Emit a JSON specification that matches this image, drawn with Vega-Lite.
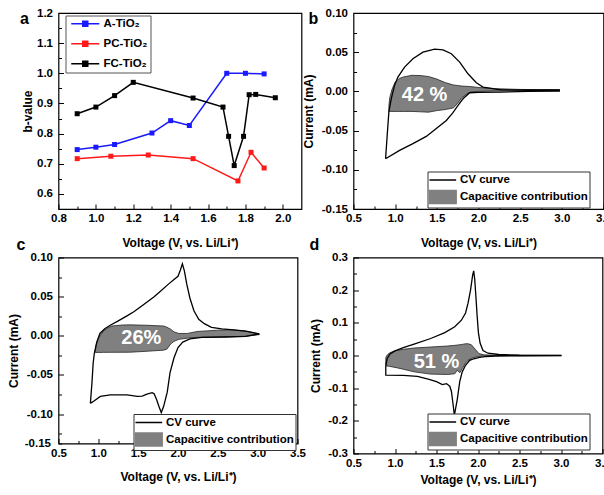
{
"$schema": "https://vega.github.io/schema/vega-lite/v6.json",
"background": "white",
"padding": {"left": 6.5, "top": 6, "right": 0, "bottom": 0},
"config": {
  "font": "Liberation Sans",
  "view": {"stroke": "black", "strokeWidth": 1.2},
  "axis": {"labelFont": "Liberation Sans", "labelFontWeight": "bold", "labelFontSize": 11.5, "labelColor": "black",
           "titleFont": "Liberation Sans", "titleFontWeight": "bold", "titleFontSize": 12, "titleColor": "black",
           "grid": false, "domain": false, "tickColor": "black", "tickWidth": 1, "labelOverlap": false, "labelFlush": false},
  "axisX": {"labelPadding": 8.5, "titlePadding": 11},
  "axisY": {"labelPadding": 11, "titlePadding": 5},
  "title": {"font": "Liberation Sans", "fontWeight": "bold", "fontSize": 16, "color": "black", "anchor": "start", "frame": "group", "baseline": "alphabetic"},
  "legend": {"labelFont": "Liberation Sans", "labelFontWeight": "bold", "labelFontSize": 11.5, "labelColor": "black", "orient": "none", "fillColor": "white"}
},
"datasets": {
  "a": [
    {"s": "A-TiO₂", "v": 0.9, "b": 0.747}, {"s": "A-TiO₂", "v": 1.0, "b": 0.755}, {"s": "A-TiO₂", "v": 1.1, "b": 0.764},
    {"s": "A-TiO₂", "v": 1.3, "b": 0.802}, {"s": "A-TiO₂", "v": 1.4, "b": 0.843}, {"s": "A-TiO₂", "v": 1.5, "b": 0.827},
    {"s": "A-TiO₂", "v": 1.7, "b": 1.0}, {"s": "A-TiO₂", "v": 1.8, "b": 1.0}, {"s": "A-TiO₂", "v": 1.9, "b": 0.998},
    {"s": "PC-TiO₂", "v": 0.9, "b": 0.717}, {"s": "PC-TiO₂", "v": 1.08, "b": 0.725}, {"s": "PC-TiO₂", "v": 1.28, "b": 0.729},
    {"s": "PC-TiO₂", "v": 1.52, "b": 0.717}, {"s": "PC-TiO₂", "v": 1.76, "b": 0.643}, {"s": "PC-TiO₂", "v": 1.83, "b": 0.738},
    {"s": "PC-TiO₂", "v": 1.9, "b": 0.686},
    {"s": "FC-TiO₂", "v": 0.9, "b": 0.866}, {"s": "FC-TiO₂", "v": 1.0, "b": 0.888}, {"s": "FC-TiO₂", "v": 1.1, "b": 0.926},
    {"s": "FC-TiO₂", "v": 1.2, "b": 0.97}, {"s": "FC-TiO₂", "v": 1.52, "b": 0.918}, {"s": "FC-TiO₂", "v": 1.68, "b": 0.888},
    {"s": "FC-TiO₂", "v": 1.71, "b": 0.791}, {"s": "FC-TiO₂", "v": 1.74, "b": 0.694}, {"s": "FC-TiO₂", "v": 1.79, "b": 0.791},
    {"s": "FC-TiO₂", "v": 1.82, "b": 0.929}, {"s": "FC-TiO₂", "v": 1.855, "b": 0.93}, {"s": "FC-TiO₂", "v": 1.96, "b": 0.919}
  ],
  "bcv": [
    {"i": 1, "v": 0.885, "I": -0.0859}, {"i": 2, "v": 0.905, "I": -0.055}, {"i": 3, "v": 0.925, "I": -0.0255},
    {"i": 4, "v": 0.953, "I": -0.0094}, {"i": 5, "v": 0.993, "I": 0.0077}, {"i": 6, "v": 1.033, "I": 0.0183},
    {"i": 7, "v": 1.113, "I": 0.031}, {"i": 8, "v": 1.213, "I": 0.0417}, {"i": 9, "v": 1.333, "I": 0.05},
    {"i": 10, "v": 1.474, "I": 0.054}, {"i": 11, "v": 1.574, "I": 0.053}, {"i": 12, "v": 1.674, "I": 0.048},
    {"i": 13, "v": 1.774, "I": 0.0374}, {"i": 14, "v": 1.874, "I": 0.0225}, {"i": 15, "v": 1.974, "I": 0.011},
    {"i": 16, "v": 2.054, "I": 0.0055}, {"i": 17, "v": 2.27, "I": 0.002}, {"i": 18, "v": 2.6, "I": 0.0018},
    {"i": 19, "v": 2.97, "I": 0.002}, {"i": 20, "v": 2.97, "I": 0.0005}, {"i": 21, "v": 2.6, "I": 0.0},
    {"i": 22, "v": 2.27, "I": -0.0009}, {"i": 23, "v": 2.0, "I": -0.0012}, {"i": 24, "v": 1.894, "I": -0.0017},
    {"i": 25, "v": 1.814, "I": -0.0094}, {"i": 26, "v": 1.754, "I": -0.0179}, {"i": 27, "v": 1.694, "I": -0.0272},
    {"i": 28, "v": 1.614, "I": -0.037}, {"i": 29, "v": 1.49, "I": -0.0476}, {"i": 30, "v": 1.373, "I": -0.0574},
    {"i": 31, "v": 1.213, "I": -0.0667}, {"i": 32, "v": 1.053, "I": -0.0753}, {"i": 33, "v": 0.885, "I": -0.0859}
  ],
  "barea": [
    {"v": 0.925, "I": -0.018, "I2": -0.0255}, {"v": 0.935, "I": -0.008, "I2": -0.0255}, {"v": 0.96, "I": 0.002, "I2": -0.0255},
    {"v": 1.0, "I": 0.012, "I2": -0.0255}, {"v": 1.05, "I": 0.0165, "I2": -0.0255}, {"v": 1.1, "I": 0.0185, "I2": -0.0255},
    {"v": 1.2, "I": 0.0205, "I2": -0.0255}, {"v": 1.3, "I": 0.0202, "I2": -0.026}, {"v": 1.4, "I": 0.019, "I2": -0.0265},
    {"v": 1.5, "I": 0.0157, "I2": -0.0245}, {"v": 1.6, "I": 0.0112, "I2": -0.0232}, {"v": 1.7, "I": 0.0082, "I2": -0.021},
    {"v": 1.75, "I": 0.0075, "I2": -0.015}, {"v": 1.8, "I": 0.0068, "I2": -0.008}, {"v": 1.85, "I": 0.0065, "I2": -0.004},
    {"v": 1.9, "I": 0.0062, "I2": -0.001}, {"v": 2.0, "I": 0.005, "I2": 0.0}, {"v": 2.2, "I": 0.0035, "I2": 0.0005},
    {"v": 2.5, "I": 0.0025, "I2": 0.001}, {"v": 2.97, "I": 0.002, "I2": 0.0015}
  ],
  "blab": [{"v": 1.353, "I": -0.005, "t": "42 %"}],
  "ccv": [
    {"i": 1, "v": 0.9, "I": -0.0863}, {"i": 2, "v": 0.92, "I": -0.06}, {"i": 3, "v": 0.935, "I": -0.035},
    {"i": 4, "v": 0.95, "I": -0.022}, {"i": 5, "v": 0.98, "I": -0.008}, {"i": 6, "v": 1.02, "I": 0.003},
    {"i": 7, "v": 1.08, "I": 0.009}, {"i": 8, "v": 1.15, "I": 0.0135}, {"i": 9, "v": 1.25, "I": 0.019},
    {"i": 10, "v": 1.36, "I": 0.0255}, {"i": 11, "v": 1.45, "I": 0.031}, {"i": 12, "v": 1.57, "I": 0.04},
    {"i": 13, "v": 1.7, "I": 0.05}, {"i": 14, "v": 1.78, "I": 0.057}, {"i": 15, "v": 1.88, "I": 0.066},
    {"i": 16, "v": 1.95, "I": 0.072}, {"i": 17, "v": 2.0, "I": 0.076}, {"i": 18, "v": 2.03, "I": 0.084},
    {"i": 19, "v": 2.055, "I": 0.092}, {"i": 20, "v": 2.08, "I": 0.083}, {"i": 21, "v": 2.11, "I": 0.066},
    {"i": 22, "v": 2.15, "I": 0.048}, {"i": 23, "v": 2.2, "I": 0.032}, {"i": 24, "v": 2.26, "I": 0.021},
    {"i": 25, "v": 2.33, "I": 0.0155}, {"i": 26, "v": 2.42, "I": 0.0108}, {"i": 27, "v": 2.55, "I": 0.0088},
    {"i": 28, "v": 2.7, "I": 0.0077}, {"i": 29, "v": 2.85, "I": 0.006}, {"i": 30, "v": 3.02, "I": 0.0025},
    {"i": 31, "v": 2.85, "I": -0.0008}, {"i": 32, "v": 2.6, "I": -0.0015}, {"i": 33, "v": 2.3, "I": -0.002},
    {"i": 34, "v": 2.15, "I": -0.004}, {"i": 35, "v": 2.06, "I": -0.008}, {"i": 36, "v": 2.0, "I": -0.015},
    {"i": 37, "v": 1.95, "I": -0.028}, {"i": 38, "v": 1.9, "I": -0.047}, {"i": 39, "v": 1.865, "I": -0.072},
    {"i": 40, "v": 1.82, "I": -0.09}, {"i": 41, "v": 1.79, "I": -0.098}, {"i": 42, "v": 1.76, "I": -0.09},
    {"i": 43, "v": 1.73, "I": -0.081}, {"i": 44, "v": 1.7, "I": -0.074}, {"i": 45, "v": 1.675, "I": -0.0725},
    {"i": 46, "v": 1.61, "I": -0.0744}, {"i": 47, "v": 1.55, "I": -0.077}, {"i": 48, "v": 1.49, "I": -0.0774},
    {"i": 49, "v": 1.36, "I": -0.0753}, {"i": 50, "v": 1.15, "I": -0.0753}, {"i": 51, "v": 1.025, "I": -0.0774},
    {"i": 52, "v": 0.95, "I": -0.083}, {"i": 53, "v": 0.9, "I": -0.0863}
  ],
  "carea": [
    {"v": 0.962, "I": -0.0205, "I2": -0.0213}, {"v": 0.97, "I": -0.013, "I2": -0.0213}, {"v": 0.985, "I": -0.008, "I2": -0.0213},
    {"v": 1.004, "I": -0.003, "I2": -0.0212}, {"v": 1.035, "I": 0.002, "I2": -0.0212}, {"v": 1.067, "I": 0.0064, "I2": -0.0211},
    {"v": 1.12, "I": 0.01, "I2": -0.0211}, {"v": 1.17, "I": 0.0125, "I2": -0.021}, {"v": 1.3, "I": 0.0138, "I2": -0.021},
    {"v": 1.4, "I": 0.014, "I2": -0.0209}, {"v": 1.6, "I": 0.0135, "I2": -0.0198}, {"v": 1.82, "I": 0.0125, "I2": -0.0183},
    {"v": 1.86, "I": 0.011, "I2": -0.017}, {"v": 1.907, "I": 0.0085, "I2": -0.0106}, {"v": 1.95, "I": 0.005, "I2": -0.007},
    {"v": 2.01, "I": 0.003, "I2": -0.0045}, {"v": 2.117, "I": 0.003, "I2": -0.003}, {"v": 2.24, "I": 0.0055, "I2": -0.002},
    {"v": 2.5, "I": 0.0072, "I2": -0.0015}, {"v": 2.66, "I": 0.0077, "I2": -0.0012}, {"v": 2.85, "I": 0.006, "I2": -0.0005},
    {"v": 3.02, "I": 0.0025, "I2": 0.0015}
  ],
  "clab": [{"v": 1.54, "I": -0.003, "t": "26%"}],
  "dcv": [
    {"i": 1, "v": 0.889, "I": -0.032}, {"i": 2, "v": 0.905, "I": -0.01}, {"i": 3, "v": 0.94, "I": 0.005},
    {"i": 4, "v": 1.0, "I": 0.014}, {"i": 5, "v": 1.1, "I": 0.024}, {"i": 6, "v": 1.23, "I": 0.035},
    {"i": 7, "v": 1.43, "I": 0.052}, {"i": 8, "v": 1.6, "I": 0.07}, {"i": 9, "v": 1.72, "I": 0.088},
    {"i": 10, "v": 1.8, "I": 0.108}, {"i": 11, "v": 1.85, "I": 0.13}, {"i": 12, "v": 1.88, "I": 0.16},
    {"i": 13, "v": 1.91, "I": 0.2}, {"i": 14, "v": 1.935, "I": 0.245}, {"i": 15, "v": 1.948, "I": 0.259},
    {"i": 16, "v": 1.96, "I": 0.235}, {"i": 17, "v": 1.975, "I": 0.18}, {"i": 18, "v": 1.99, "I": 0.12},
    {"i": 19, "v": 2.005, "I": 0.07}, {"i": 20, "v": 2.025, "I": 0.038}, {"i": 21, "v": 2.06, "I": 0.015},
    {"i": 22, "v": 2.12, "I": 0.007}, {"i": 23, "v": 2.25, "I": 0.003}, {"i": 24, "v": 2.5, "I": 0.001},
    {"i": 25, "v": 3.0, "I": 0.0005}, {"i": 26, "v": 3.0, "I": -0.0005}, {"i": 27, "v": 2.5, "I": -0.0008},
    {"i": 28, "v": 2.2, "I": -0.0015}, {"i": 29, "v": 2.1, "I": -0.003}, {"i": 30, "v": 2.02, "I": -0.006},
    {"i": 31, "v": 1.95, "I": -0.01}, {"i": 32, "v": 1.9, "I": -0.015}, {"i": 33, "v": 1.85, "I": -0.03},
    {"i": 34, "v": 1.81, "I": -0.05}, {"i": 35, "v": 1.78, "I": -0.08}, {"i": 36, "v": 1.75, "I": -0.135},
    {"i": 37, "v": 1.715, "I": -0.183}, {"i": 38, "v": 1.7, "I": -0.15}, {"i": 39, "v": 1.68, "I": -0.11},
    {"i": 40, "v": 1.66, "I": -0.094}, {"i": 41, "v": 1.62, "I": -0.086}, {"i": 42, "v": 1.57, "I": -0.089},
    {"i": 43, "v": 1.5, "I": -0.08}, {"i": 44, "v": 1.4, "I": -0.072}, {"i": 45, "v": 1.27, "I": -0.064},
    {"i": 46, "v": 1.1, "I": -0.061}, {"i": 47, "v": 0.889, "I": -0.06}, {"i": 48, "v": 0.889, "I": -0.032}
  ],
  "darea": [
    {"v": 0.889, "I": -0.008, "I2": -0.031}, {"v": 0.9, "I": 0.0, "I2": -0.032}, {"v": 0.93, "I": 0.007, "I2": -0.033},
    {"v": 0.97, "I": 0.012, "I2": -0.035}, {"v": 1.03, "I": 0.016, "I2": -0.038}, {"v": 1.1, "I": 0.019, "I2": -0.042},
    {"v": 1.23, "I": 0.023, "I2": -0.05}, {"v": 1.43, "I": 0.026, "I2": -0.057}, {"v": 1.63, "I": 0.029, "I2": -0.058},
    {"v": 1.72, "I": 0.031, "I2": -0.056}, {"v": 1.75, "I": 0.032, "I2": -0.045}, {"v": 1.78, "I": 0.033, "I2": -0.053},
    {"v": 1.81, "I": 0.034, "I2": -0.04}, {"v": 1.85, "I": 0.036, "I2": -0.023}, {"v": 1.88, "I": 0.036, "I2": -0.015},
    {"v": 1.92, "I": 0.033, "I2": -0.009}, {"v": 1.97, "I": 0.018, "I2": -0.005}, {"v": 2.01, "I": 0.006, "I2": -0.003},
    {"v": 2.07, "I": 0.002, "I2": -0.001}, {"v": 2.2, "I": 0.001, "I2": -0.0005}, {"v": 3.0, "I": 0.0005, "I2": -0.0005}
  ],
  "dlab": [{"v": 1.5, "I": -0.02, "t": "51 %"}]
},
"columns": 2,
"spacing": {"row": 48.5, "column": 52},
"bounds": "flush",
"resolve": {"scale": {"color": "independent"}, "legend": {"color": "independent"}},
"concat": [
  {
    "width": 243, "height": 196,
    "title": {"text": "a", "dx": -38.5, "offset": -19.5},
    "data": {"name": "a"},
    "mark": {"type": "line", "strokeWidth": 1.5, "point": {"shape": "square", "size": 25, "filled": true}},
    "encoding": {
      "x": {"field": "v", "type": "quantitative", "title": "Voltage (V, vs. Li/Li⁺)",
            "scale": {"domain": [0.8, 2.1], "nice": false, "zero": false},
            "axis": {"labelOverlap": false, "values": [0.8, 0.9, 1.0, 1.1, 1.2, 1.3, 1.4, 1.5, 1.6, 1.7, 1.8, 1.9, 2.0],
                     "labelExpr": "round(datum.value*10) % 2 == 0 ? format(datum.value, '.1f') : ''",
                     "tickSize": {"condition": {"test": "round(datum.value*10) % 2 == 0", "value": -5}, "value": -3}}},
      "y": {"field": "b", "type": "quantitative", "title": "b-value",
            "scale": {"domain": [0.55, 1.2], "nice": false, "zero": false},
            "axis": {"labelOverlap": false, "titlePadding": 2.5, "values": [0.55, 0.6, 0.65, 0.7, 0.75, 0.8, 0.85, 0.9, 0.95, 1.0, 1.05, 1.1, 1.15, 1.2],
                     "labelExpr": "round(datum.value*100) % 10 == 0 ? format(datum.value, '.1f') : ''",
                     "tickSize": {"condition": {"test": "round(datum.value*100) % 10 == 0", "value": -5}, "value": -3}}},
      "color": {"field": "s", "type": "nominal",
                "scale": {"domain": ["A-TiO₂", "PC-TiO₂", "FC-TiO₂"], "range": ["#1a1aff", "#ff1a1a", "#000000"]},
                "legend": {"title": null, "legendX": 7, "legendY": 2.5, "strokeColor": "#555", "padding": 2.5,
                           "rowPadding": 7, "symbolSize": 25, "labelOffset": 24, "symbolStrokeWidth": 1.5,
                           "encode": {"symbols": {"update": {
                              "shape": {"value": "M-1,0H10.2M3.6,-1H5.6V1H3.6Z"},
                              "fill": {"signal": "datum.value === 'A-TiO₂' ? '#1a1aff' : datum.value === 'PC-TiO₂' ? '#ff1a1a' : '#000000'"}}}}}}
    }
  },
  {
    "width": 250, "height": 196,
    "title": {"text": "b", "dx": -45, "offset": -19.5},
    "encoding": {
      "x": {"field": "v", "type": "quantitative", "title": "Voltage (V, vs. Li/Li⁺)",
            "scale": {"domain": [0.5, 3.5], "nice": false, "zero": false},
            "axis": {"labelOverlap": false, "values": [0.5, 0.75, 1.0, 1.25, 1.5, 1.75, 2.0, 2.25, 2.5, 2.75, 3.0, 3.25, 3.5],
                     "labelExpr": "round(datum.value*100) % 50 == 0 ? format(datum.value, '.1f') : ''",
                     "tickSize": {"condition": {"test": "round(datum.value*100) % 50 == 0", "value": -5}, "value": -3}}},
      "y": {"field": "I", "type": "quantitative", "title": "Current (mA)",
            "scale": {"domain": [-0.15, 0.1], "nice": false, "zero": false},
            "axis": {"labelOverlap": false, "titlePadding": 6, "values": [-0.15, -0.125, -0.1, -0.075, -0.05, -0.025, 0, 0.025, 0.05, 0.075, 0.1],
                     "labelExpr": "round(datum.value*1000) % 50 == 0 ? (datum.value < -0.001 ? '-' : '') + format(abs(datum.value), '.2f') : ''",
                     "tickSize": {"condition": {"test": "round(datum.value*1000) % 50 == 0", "value": -5}, "value": -3}}}
    },
    "layer": [
      {
        "data": {"name": "barea"},
        "mark": {"type": "area", "stroke": "#222", "strokeWidth": 0.8, "opacity": 1},
        "encoding": {
          "y2": {"field": "I2"},
          "color": {"datum": "Capacitive contribution", "type": "nominal"}
        }
      },
      {
        "data": {"name": "bcv"},
        "mark": {"type": "line", "strokeWidth": 1.3},
        "encoding": {
          "order": {"field": "i", "type": "quantitative"},
          "color": {"datum": "CV curve", "type": "nominal",
                    "scale": {"domain": ["CV curve", "Capacitive contribution"], "range": ["#000000", "#808080"]},
                    "legend": {"title": null, "legendX": 74, "legendY": 158.5, "strokeColor": "#333", "padding": 1,
                               "rowPadding": 2, "symbolSize": 169, "labelOffset": 16.5, "symbolStrokeWidth": 1.5,
                               "encode": {"symbols": {"update": {
                                  "shape": {"signal": "datum.value === 'CV curve' ? 'M-1,0H3.1' : 'M-1,-1H3.1V1H-1Z'"},
                                  "fill": {"signal": "datum.value === 'CV curve' ? 'transparent' : '#808080'"},
                                  "stroke": {"signal": "datum.value === 'CV curve' ? '#000000' : '#808080'"},
                                  "opacity": {"value": 1}}}}}}
        }
      },
      {
        "data": {"name": "blab"},
        "mark": {"type": "text", "color": "white", "fontSize": 20, "fontWeight": "bold", "font": "Liberation Sans", "baseline": "middle", "align": "center"},
        "encoding": {"text": {"field": "t"}}
      }
    ]
  },
  {
    "width": 239, "height": 186,
    "title": {"text": "c", "dx": -42, "offset": -1.5},
    "encoding": {
      "x": {"field": "v", "type": "quantitative", "title": "Voltage (V, vs. Li/Li⁺)",
            "scale": {"domain": [0.5, 3.5], "nice": false, "zero": false},
            "axis": {"labelOverlap": false, "values": [0.5, 0.75, 1.0, 1.25, 1.5, 1.75, 2.0, 2.25, 2.5, 2.75, 3.0, 3.25, 3.5],
                     "labelExpr": "round(datum.value*100) % 50 == 0 ? format(datum.value, '.1f') : ''",
                     "tickSize": {"condition": {"test": "round(datum.value*100) % 50 == 0", "value": -5}, "value": -3}}},
      "y": {"field": "I", "type": "quantitative", "title": "Current (mA)",
            "scale": {"domain": [-0.1375, 0.1], "nice": false, "zero": false},
            "axis": {"labelOverlap": false, "titlePadding": 3.5, "values": [-0.1375, -0.125, -0.1, -0.075, -0.05, -0.025, 0, 0.025, 0.05, 0.075, 0.1],
                     "labelExpr": "datum.value < -0.13 ? '-0.15' : round(datum.value*1000) % 50 == 0 ? (datum.value < -0.001 ? '-' : '') + format(abs(datum.value), '.2f') : ''",
                     "tickSize": {"condition": {"test": "round(datum.value*1000) % 50 == 0", "value": -5}, "value": -3}}}
    },
    "layer": [
      {
        "data": {"name": "carea"},
        "mark": {"type": "area", "stroke": "#222", "strokeWidth": 0.8, "opacity": 1},
        "encoding": {
          "y2": {"field": "I2"},
          "color": {"datum": "Capacitive contribution", "type": "nominal"}
        }
      },
      {
        "data": {"name": "ccv"},
        "mark": {"type": "line", "strokeWidth": 1.3},
        "encoding": {
          "order": {"field": "i", "type": "quantitative"},
          "color": {"datum": "CV curve", "type": "nominal",
                    "scale": {"domain": ["CV curve", "Capacitive contribution"], "range": ["#000000", "#808080"]},
                    "legend": {"title": null, "legendX": 75, "legendY": 156.5, "strokeColor": "#333", "padding": 1,
                               "rowPadding": 2, "symbolSize": 169, "labelOffset": 16.5, "symbolStrokeWidth": 1.5,
                               "encode": {"symbols": {"update": {
                                  "shape": {"signal": "datum.value === 'CV curve' ? 'M-1,0H3.1' : 'M-1,-1H3.1V1H-1Z'"},
                                  "fill": {"signal": "datum.value === 'CV curve' ? 'transparent' : '#808080'"},
                                  "stroke": {"signal": "datum.value === 'CV curve' ? '#000000' : '#808080'"},
                                  "opacity": {"value": 1}}}}}}
        }
      },
      {
        "data": {"name": "clab"},
        "mark": {"type": "text", "color": "white", "fontSize": 20, "fontWeight": "bold", "font": "Liberation Sans", "baseline": "middle", "align": "center"},
        "encoding": {"text": {"field": "t"}}
      }
    ]
  },
  {
    "width": 249, "height": 196,
    "title": {"text": "d", "dx": -44, "offset": -1.5},
    "encoding": {
      "x": {"field": "v", "type": "quantitative", "title": "Voltage (V, vs. Li/Li⁺)",
            "scale": {"domain": [0.5, 3.5], "nice": false, "zero": false},
            "axis": {"labelOverlap": false, "titlePadding": 4, "values": [0.5, 0.75, 1.0, 1.25, 1.5, 1.75, 2.0, 2.25, 2.5, 2.75, 3.0, 3.25, 3.5],
                     "labelExpr": "round(datum.value*100) % 50 == 0 ? format(datum.value, '.1f') : ''",
                     "tickSize": {"condition": {"test": "round(datum.value*100) % 50 == 0", "value": -5}, "value": -3}}},
      "y": {"field": "I", "type": "quantitative", "title": "Current (mA)",
            "scale": {"domain": [-0.3, 0.3], "nice": false, "zero": false},
            "axis": {"labelOverlap": false, "titlePadding": 5, "values": [-0.3, -0.25, -0.2, -0.15, -0.1, -0.05, 0, 0.05, 0.1, 0.15, 0.2, 0.25, 0.3],
                     "labelExpr": "round(datum.value*100) % 10 == 0 ? (datum.value < -0.001 ? '-' : '') + format(abs(datum.value), '.1f') : ''",
                     "tickSize": {"condition": {"test": "round(datum.value*100) % 10 == 0", "value": -5}, "value": -3}}}
    },
    "layer": [
      {
        "data": {"name": "darea"},
        "mark": {"type": "area", "stroke": "#222", "strokeWidth": 0.8, "opacity": 1},
        "encoding": {
          "y2": {"field": "I2"},
          "color": {"datum": "Capacitive contribution", "type": "nominal"}
        }
      },
      {
        "data": {"name": "dcv"},
        "mark": {"type": "line", "strokeWidth": 1.3},
        "encoding": {
          "order": {"field": "i", "type": "quantitative"},
          "color": {"datum": "CV curve", "type": "nominal",
                    "scale": {"domain": ["CV curve", "Capacitive contribution"], "range": ["#000000", "#808080"]},
                    "legend": {"title": null, "legendX": 74, "legendY": 156, "strokeColor": "#333", "padding": 1,
                               "rowPadding": 2, "symbolSize": 169, "labelOffset": 16.5, "symbolStrokeWidth": 1.5,
                               "encode": {"symbols": {"update": {
                                  "shape": {"signal": "datum.value === 'CV curve' ? 'M-1,0H3.1' : 'M-1,-1H3.1V1H-1Z'"},
                                  "fill": {"signal": "datum.value === 'CV curve' ? 'transparent' : '#808080'"},
                                  "stroke": {"signal": "datum.value === 'CV curve' ? '#000000' : '#808080'"},
                                  "opacity": {"value": 1}}}}}}
        }
      },
      {
        "data": {"name": "dlab"},
        "mark": {"type": "text", "color": "white", "fontSize": 20, "fontWeight": "bold", "font": "Liberation Sans", "baseline": "middle", "align": "center"},
        "encoding": {"text": {"field": "t"}}
      }
    ]
  }
]
}
